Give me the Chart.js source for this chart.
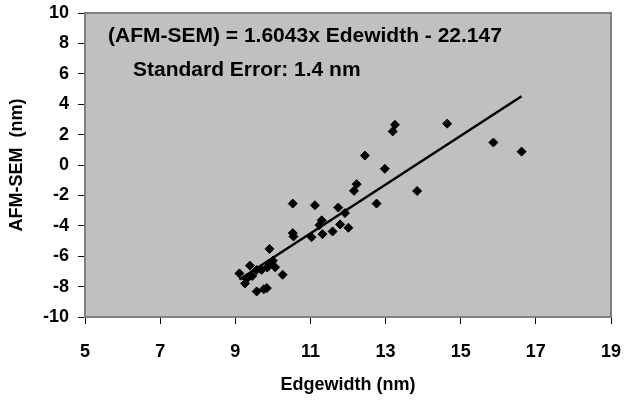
<!DOCTYPE html>
<html>
<head>
<meta charset="utf-8">
<script src="https://cdn.jsdelivr.net/npm/chart.js@4"></script>
<style>
    html, body { margin: 0; padding: 0; background: #ffffff; }
    #wrap { width: 625px; height: 400px; }
</style>
</head>
<body>
<div id="wrap"><canvas id="chart"></canvas></div>
<script>
    // valores
    const edgewidth = [
        10.53, 10.55, 9.91, 9.11, 9.39, 9.57, 9.30, 9.26, 9.92, 10.06,
        10.26, 9.57, 9.76, 11.03, 11.32, 11.24, 10.53, 11.12, 11.74, 11.92,
        11.30, 11.79, 12.01, 11.59, 12.23, 12.16, 12.76, 12.98, 13.25, 13.19,
        12.45, 13.84, 14.64, 15.87, 16.62, 9.85, 9.45, 10.00, 9.70, 9.84
    ];
    const afmSem = [
        -4.48, -4.70, -5.52, -7.13, -6.62, -6.91, -7.50, -7.79, -6.51, -6.73,
        -7.22, -8.32, -8.17, -4.75, -4.55, -3.95, -2.54, -2.65, -2.80, -3.16,
        -3.64, -3.91, -4.13, -4.37, -1.26, -1.70, -2.54, -0.25, 2.65, 2.21,
        0.62, -1.71, 2.72, 1.48, 0.88, -6.75, -7.30, -6.30, -6.90, -8.10
    ];
    const trendX = [9.11, 16.62];
    const trendY = [-7.53, 4.52];
    const xTicks = [5, 7, 9, 11, 13, 15, 17, 19];
    const yTicks = [-10, -8, -6, -4, -2, 0, 2, 4, 6, 8, 10];
    const notas = ['(AFM-SEM) = 1.6043x Edewidth - 22.147', 'Standard Error: 1.4 nm'];

    const fuente = "'Liberation Sans', Arial, sans-serif";

    const fondoPlot = {
        id: 'fondoPlot',
        beforeDraw(chart) {
            const { ctx, chartArea: a } = chart;
            ctx.save();
            ctx.fillStyle = '#c0c0c0';
            ctx.fillRect(a.left, a.top, a.right - a.left, a.bottom - a.top);
            ctx.restore();
        },
        afterDatasetsDraw(chart) {
            const { ctx, chartArea: a } = chart;
            ctx.save();
            ctx.strokeStyle = '#808080';
            ctx.lineWidth = 2;
            ctx.strokeRect(a.left, a.top, a.right - a.left, a.bottom - a.top);
            ctx.fillStyle = '#000';
            ctx.font = `bold 21px ${fuente}`;
            ctx.textBaseline = 'middle';
            ctx.fillText(notas[0], 108, 36);
            ctx.fillText(notas[1], 133, 70);
            ctx.restore();
        }
    };

    new Chart(document.getElementById('chart'), {
        type: 'scatter',
        data: {
            datasets: [
                {
                    type: 'line',
                    data: trendX.map((x, i) => ({ x, y: trendY[i] })),
                    borderColor: '#000',
                    borderWidth: 2.5,
                    pointRadius: 0,
                    fill: false,
                    order: 2
                },
                {
                    data: edgewidth.map((x, i) => ({ x, y: afmSem[i] })),
                    pointStyle: 'rectRot',
                    pointRadius: 4.5,
                    backgroundColor: '#000',
                    borderColor: '#000',
                    borderWidth: 1,
                    order: 1
                }
            ]
        },
        options: {
            responsive: true,
            maintainAspectRatio: false,
            animation: false,
            layout: { padding: { top: 13, right: 14, left: 0, bottom: 0 } },
            plugins: {
                legend: { display: false },
                tooltip: { enabled: false }
            },
            scales: {
                x: {
                    type: 'linear',
                    min: 5,
                    max: 19,
                    afterBuildTicks: s => { s.ticks = xTicks.map(v => ({ value: v })); },
                    afterFit: s => {
                        s.height = 83;
                        s.paddingLeft = 0;
                        s.paddingRight = 0;
                    },
                    border: { display: false },
                    grid: { drawOnChartArea: false, tickLength: 7, color: '#000' },
                    ticks: {
                        color: '#000',
                        padding: 17,
                        maxRotation: 0,
                        font: { family: fuente, size: 18, weight: 'bold' }
                    },
                    title: {
                        display: true,
                        text: 'Edgewidth (nm)',
                        color: '#000',
                        padding: { top: 6 },
                        font: { family: fuente, size: 18, weight: 'bold' }
                    }
                },
                y: {
                    type: 'linear',
                    min: -10,
                    max: 10,
                    afterBuildTicks: s => { s.ticks = yTicks.map(v => ({ value: v })); },
                    afterFit: s => {
                        s.width = 85;
                        s.paddingTop = 0;
                        s.paddingBottom = 0;
                    },
                    border: { display: false },
                    grid: { drawOnChartArea: false, tickLength: 7, color: '#000' },
                    ticks: {
                        color: '#000',
                        padding: 9,
                        font: { family: fuente, size: 18, weight: 'bold' }
                    },
                    title: {
                        display: true,
                        text: 'AFM-SEM  (nm)',
                        color: '#000',
                        padding: { top: 6, bottom: 4 },
                        font: { family: fuente, size: 18, weight: 'bold' }
                    }
                }
            }
        },
        plugins: [fondoPlot]
    });
</script>
</body>
</html>
